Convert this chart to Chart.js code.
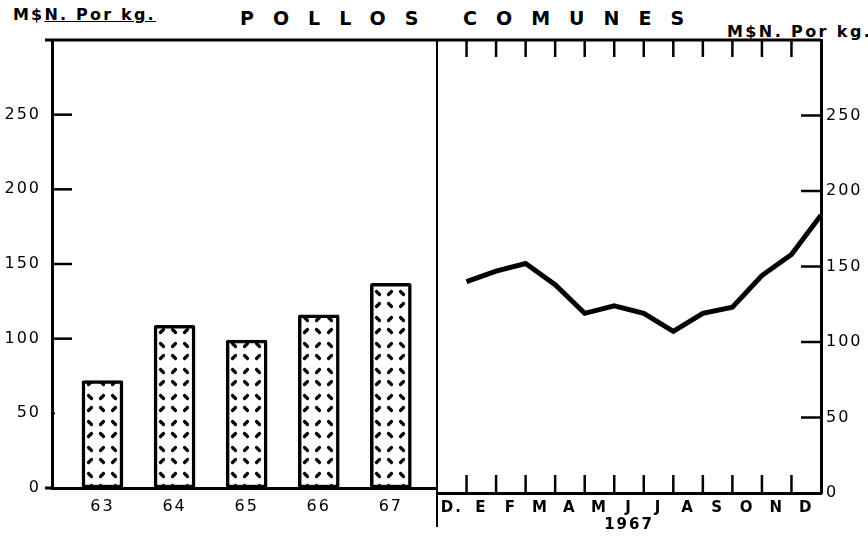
<!DOCTYPE html>
<html lang="es">
<head>
<meta charset="utf-8">
<title>Pollos comunes</title>
<script src="https://cdn.jsdelivr.net/npm/chart.js@4.4.1/dist/chart.umd.min.js"></script>
<style>
  html, body { margin: 0; padding: 0; background: #fff; }
  #Lamina { position: relative; width: 868px; height: 537px; overflow: hidden; font-family: 'DejaVu Sans', sans-serif; color: #000; }
  #Lamina canvas { position: absolute; top: 0; }
  #GraficoAnual  { left: 0; }
  #GraficoMensual { left: 435px; }
  .Texto { position: absolute; white-space: nowrap; font-weight: bold; line-height: 1; }
  #Titulo    { left: 240px; top: 9px;  font-size: 19px; letter-spacing: 19px; }
  #UnidadIzq { left: 13px;  top: 7px;  font-size: 16px; letter-spacing: 2.2px; }
  #UnidadDer { left: 727px; top: 24px; font-size: 16px; letter-spacing: 2.4px; }
</style>
</head>
<body>
<div id="Lamina">
  <div class="Texto" id="Titulo">POLLOS COMUNES</div>
  <div class="Texto" id="UnidadIzq">M$<u>N. Por kg.</u></div>
  <div class="Texto" id="UnidadDer">M$N. Por kg.</div>
  <canvas id="GraficoAnual" width="437" height="537"></canvas>
  <canvas id="GraficoMensual" width="433" height="537"></canvas>
</div>

<script>
// Precio promedio anual (M$N por kg)
const ANIOS        = ['63', '64', '65', '66', '67'];
const PRECIO_ANUAL = [72, 109, 99, 116, 137];

// Precio mensual dic-1966 a dic-1967
const MESES          = ['D.', 'E', 'F', 'M', 'A', 'M', 'J', 'J', 'A', 'S', 'O', 'N', 'D'];
const PRECIO_MENSUAL = [140, 147, 152, 138, 119, 124, 119, 107, 119, 123, 144, 158, 184];

const MARCAS_Y = [0, 50, 100, 150, 200, 250];

const FuenteNum = { family: "'DejaVu Sans', sans-serif", size: 16 };
const FuenteMes = { family: "'DejaVu Sans', sans-serif", size: 15, weight: 'bold' };

// Trama de guiones para el relleno de las barras
function CrearTrama() {
  const Lienzo = document.createElement('canvas');
  Lienzo.width = 24;
  Lienzo.height = 26;
  const C = Lienzo.getContext('2d');
  C.fillStyle = '#fff';
  C.fillRect(0, 0, 24, 26);
  C.strokeStyle = '#000';
  C.lineWidth = 3.2;
  C.lineCap = 'round';
  const Guiones = [
    [4.5, 8.5, 7.5, 5.5], [16.5, 5.5, 19.5, 8.5],
    [4.5, 17.5, 7.5, 20.5], [16.5, 20.5, 19.5, 17.5]
  ];
  Guiones.forEach(([X1, Y1, X2, Y2]) => {
    C.beginPath();
    C.moveTo(X1, Y1);
    C.lineTo(X2, Y2);
    C.stroke();
  });
  return C.createPattern(Lienzo, 'repeat');
}

function Linea(Ctx, X1, Y1, X2, Y2, Ancho) {
  Ctx.beginPath();
  Ctx.lineWidth = Ancho;
  Ctx.moveTo(X1, Y1);
  Ctx.lineTo(X2, Y2);
  Ctx.stroke();
}

const Espaciado = {
  id: 'Espaciado',
  beforeDraw(Chart) { Chart.ctx.letterSpacing = '2px'; }
};

// Marco y marcas interiores del panel anual
const MarcoAnual = {
  id: 'MarcoAnual',
  afterDraw(Chart) {
    const { ctx: Ctx, chartArea: A, scales } = Chart;
    Ctx.save();
    Ctx.strokeStyle = '#000';
    Ctx.lineCap = 'butt';
    Linea(Ctx, A.left - 7, A.top, A.right, A.top, 3);
    Linea(Ctx, A.left - 7, A.bottom, A.left, A.bottom, 3);
    MARCAS_Y.filter(V => V >= 100).forEach(V => {
      const Y = scales.y.getPixelForValue(V);
      Linea(Ctx, A.left, Y, A.left + 20, Y, 2.5);
    });
    const Y50 = scales.y.getPixelForValue(50);
    Linea(Ctx, A.left, Y50, A.left + 3, Y50, 2);
    Ctx.restore();
  }
};

// Marco, divisor y marcas interiores del panel mensual
const MarcoMensual = {
  id: 'MarcoMensual',
  afterDraw(Chart) {
    const { ctx: Ctx, chartArea: A, scales } = Chart;
    Ctx.save();
    Ctx.strokeStyle = '#000';
    Ctx.lineCap = 'butt';
    Linea(Ctx, A.left, A.top, A.right, A.top, 3);
    Linea(Ctx, A.left, A.top, A.left, 527, 2);
    for (let I = 1; I < MESES.length; I++) {
      const X = scales.xLinea.getPixelForValue(I);
      Linea(Ctx, X, A.bottom, X, A.bottom - 18, 2.5);
      Linea(Ctx, X, A.top, X, A.top + 17, 2.5);
    }
    MARCAS_Y.filter(V => V > 0).forEach(V => {
      const Y = scales.y.getPixelForValue(V);
      Linea(Ctx, A.right - 20, Y, A.right, Y, 2.5);
    });
    Ctx.restore();
  }
};

const Borde = { display: true, color: '#000', width: 3 };
const SinRejilla = { display: false, drawTicks: false };
const Comunes = {
  responsive: false,
  animation: false,
  events: [],
  plugins: { legend: { display: false }, tooltip: { enabled: false } }
};

new Chart(document.getElementById('GraficoAnual'), {
  type: 'bar',
  data: {
    datasets: [{
      data: PRECIO_ANUAL.map((V, I) => ({ x: I, y: V })),
      backgroundColor: CrearTrama(),
      borderColor: '#000',
      borderWidth: 3.5,
      borderRadius: 2,
      borderSkipped: false,
      barThickness: 41
    }]
  },
  options: {
    ...Comunes,
    layout: { padding: { top: 40, left: 0, right: 0, bottom: 0 } },
    scales: {
      x: {
        type: 'linear',
        offset: false,
        min: -0.7,
        max: 4.64,
        grid: SinRejilla,
        border: Borde,
        afterBuildTicks: S => { S.ticks = ANIOS.map((_, I) => ({ value: I })); },
        afterFit: S => { S.height = 49; },
        ticks: { callback: V => ANIOS[V], color: '#000', font: FuenteNum, padding: 9, maxRotation: 0, autoSkip: false }
      },
      y: {
        min: 0,
        max: 300,
        grid: SinRejilla,
        border: Borde,
        afterBuildTicks: S => { S.ticks = MARCAS_Y.map(V => ({ value: V })); },
        afterFit: S => { S.width = 52; },
        ticks: { color: '#000', font: FuenteNum, padding: 11 }
      }
    }
  },
  plugins: [Espaciado, MarcoAnual]
});

new Chart(document.getElementById('GraficoMensual'), {
  type: 'line',
  data: {
    labels: MESES,
    datasets: [{
      data: PRECIO_MENSUAL.map((V, I) => ({ x: I + 1, y: V })),
      xAxisID: 'xLinea',
      borderColor: '#000',
      borderWidth: 5,
      pointRadius: 0,
      tension: 0,
      fill: false
    }]
  },
  options: {
    ...Comunes,
    layout: { padding: { top: 40, left: 2, right: 0, bottom: 0 } },
    scales: {
      x: {
        type: 'category',
        offset: true,
        grid: SinRejilla,
        border: Borde,
        afterFit: S => { S.height = 44; },
        ticks: { color: '#000', font: FuenteMes, padding: 6, maxRotation: 0, autoSkip: false },
        title: { display: true, text: '1967', color: '#000', font: FuenteMes, padding: { top: 0, bottom: 3 } }
      },
      xLinea: { type: 'linear', min: 0, max: MESES.length, display: false },
      y: {
        position: 'right',
        min: 0,
        max: 300,
        grid: SinRejilla,
        border: Borde,
        afterBuildTicks: S => { S.ticks = MARCAS_Y.map(V => ({ value: V })); },
        afterFit: S => { S.width = 47; },
        ticks: { color: '#000', font: FuenteNum, padding: 5 }
      }
    }
  },
  plugins: [Espaciado, MarcoMensual]
});
</script>
</body>
</html>
